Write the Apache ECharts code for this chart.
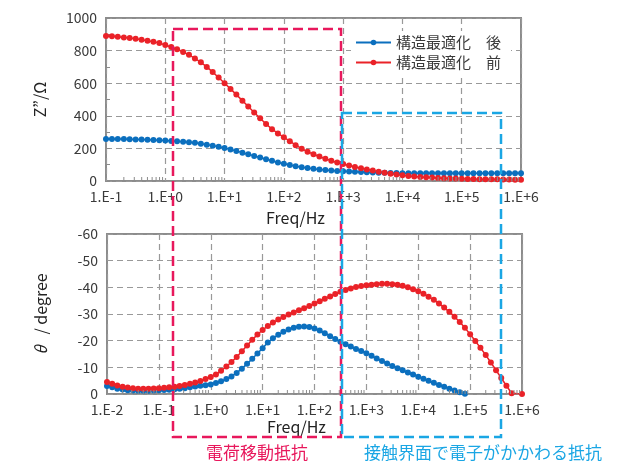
<!DOCTYPE html>
<html><head><meta charset="utf-8">
<script src="https://cdn.jsdelivr.net/npm/echarts@6/dist/echarts.min.js"></script>
<style>html,body{margin:0;padding:0;background:#fff}#c{width:631px;height:468px}</style>
</head><body><div id="c"></div><script>
// Frequencies (Hz), 10 points per decade
const topFreq = [
 0.1,0.126,0.158,0.2,0.251,0.316,0.398,0.501,0.631,0.794,
 1,1.26,1.58,2,2.51,3.16,3.98,5.01,6.31,7.94,
 10,12.6,15.8,20,25.1,31.6,39.8,50.1,63.1,79.4,
 100,126,158,200,251,316,398,501,631,794,
 1000,1260,1580,2000,2510,3160,3980,5010,6310,7940,
 10000,12600,15800,20000,25100,31600,39800,50100,63100,79400,
 100000,126000,158000,200000,251000,316000,398000,501000,631000,794000,
 1000000];
const bottomFreq = [
 0.01,0.0126,0.0158,0.02,0.0251,0.0316,0.0398,0.0501,0.0631,0.0794,
 0.1,0.126,0.158,0.2,0.251,0.316,0.398,0.501,0.631,0.794,
 1,1.26,1.58,2,2.51,3.16,3.98,5.01,6.31,7.94,
 10,12.6,15.8,20,25.1,31.6,39.8,50.1,63.1,79.4,
 100,126,158,200,251,316,398,501,631,794,
 1000,1260,1580,2000,2510,3160,3980,5010,6310,7940,
 10000,12600,15800,20000,25100,31600,39800,50100,63100,79400,
 100000,126000,158000,200000,251000,316000,398000,501000,631000,794000,
 1000000];
// Z'' (Ω)
const zAfter = [
 258,258,257,257,256,255,254,253,252,250,
 248,246,244,241,238,234,229,223,217,210,
 203,194,184,174,164,154,144,134,124,114,
 106,98,91,85,80,75,71,67,64,62,
 60,58,56,55,53,52,51,50,49,49,
 48,48,47,47,47,47,47,47,47,47,
 47,47,47,47,47,47,47,47,47,47,
 47];
const zBefore = [
 890,888,885,881,877,872,867,861,855,846,
 834,822,808,792,774,752,728,700,668,635,
 600,565,530,493,457,420,385,350,318,292,
 268,244,220,198,180,164,150,137,125,114,
 104,95,86,78,71,64,57,51,45,40,
 35,31,28,25,23,21,19,17,16,15,
 14,13,12,11,11,10,10,9,9,8,
 8];
// phase θ (degree)
const phaseAfter = [
 -3.0,-2.5,-2.0,-1.7,-1.4,-1.3,-1.2,-1.2,-1.2,-1.3,
 -1.4,-1.5,-1.6,-1.8,-2.0,-2.2,-2.5,-2.8,-3.1,-3.3,
 -3.6,-4.1,-4.8,-5.6,-6.6,-7.9,-9.5,-11.3,-13.2,-15.2,
 -17.2,-19.3,-20.9,-22.2,-23.3,-24.2,-24.8,-25.2,-25.3,-25.1,
 -24.6,-23.8,-22.8,-21.7,-20.6,-19.6,-18.7,-17.8,-16.9,-16.1,
 -15.3,-14.3,-13.3,-12.4,-11.4,-10.5,-9.7,-8.9,-8.1,-7.3,
 -6.5,-5.7,-5.0,-4.2,-3.4,-2.7,-2.0,-1.3,-0.7,-0.1];
const phaseBefore = [
 -4.5,-3.8,-3.2,-2.7,-2.4,-2.2,-2.0,-2.0,-2.0,-2.1,
 -2.2,-2.3,-2.5,-2.7,-3.0,-3.4,-3.8,-4.3,-4.9,-5.6,
 -6.4,-7.3,-8.7,-10.3,-12.0,-13.9,-16.0,-18.2,-20.3,-22.3,
 -24.0,-25.5,-26.8,-27.9,-28.9,-29.8,-30.6,-31.4,-32.2,-33.0,
 -33.9,-34.8,-35.7,-36.6,-37.5,-38.3,-39.0,-39.6,-40.1,-40.5,
 -40.8,-41.0,-41.2,-41.3,-41.3,-41.2,-41.0,-40.6,-40.0,-39.3,
 -38.5,-37.6,-36.5,-35.3,-33.9,-32.4,-30.8,-29.0,-27.0,-24.8,
 -22.4,-19.9,-17.3,-14.6,-11.8,-8.9,-6.0,-3.1,-0.3,null,
 0];
const seriesNames = ['構造最適化　後', '構造最適化　前'];
const annotationLabels = ['電荷移動抵抗', '接触界面で電子がかかわる抵抗'];

const FONT = '"Noto Sans CJK JP","Noto Sans",sans-serif';
const BLUE = '#0B6FBE', RED = '#EA2228', GRIDC = '#999999', FRAME = '#8c8c8c', TXT = '#3a3a3a';
const PINK = '#E8185C', SKY = '#1AA6E4';

function expLabel(v) {
  const e = Math.round(Math.log10(v));
  return '1.E' + (e >= 0 ? '+' : '-') + Math.abs(e);
}
const pairs = (f, v) => v.map((y, i) => [f[i], y == null ? '-' : y]);

const chart = echarts.init(document.getElementById('c'), null, {renderer: 'canvas'});

const splitLine = {show: true, lineStyle: {type: [6, 4], color: GRIDC, width: 1.2}};
const axisLabel = {color: TXT, fontSize: 14, fontFamily: FONT};
const nameStyle = {color: '#222', fontSize: 16, fontFamily: FONT};

function xAxis(gi, min, gap) {
  return {
    type: 'log', logBase: 10, gridIndex: gi, min: min, max: 1e6,
    name: 'Freq/Hz', nameLocation: 'middle', nameGap: gap,
    nameTextStyle: Object.assign({padding: [0, 36, 0, 0]}, nameStyle),
    axisLine: {show: false}, axisTick: {show: false},
    axisLabel: Object.assign({formatter: expLabel, margin: 9}, axisLabel),
    splitLine: splitLine
  };
}
function line(name, color, xi, data) {
  return {
    type: 'line', name: name, xAxisIndex: xi, yAxisIndex: xi, data: data,
    symbol: 'circle', symbolSize: 6, showSymbol: true, connectNulls: true,
    itemStyle: {color: color}, lineStyle: {color: color, width: 1.5},
    animation: false
  };
}

chart.setOption({
  animation: false,
  textStyle: {fontFamily: FONT},
  grid: [
    {left: 106, top: 18, width: 415, height: 163, show: true, borderColor: FRAME, borderWidth: 2},
    {left: 107, top: 234, width: 415, height: 160, show: true, borderColor: FRAME, borderWidth: 2}
  ],
  xAxis: [xAxis(0, 0.1, 29), xAxis(1, 0.01, 25)],
  yAxis: [
    {type: 'value', gridIndex: 0, min: 0, max: 1000, interval: 200,
     name: 'Z”/Ω', nameLocation: 'middle', nameGap: 58, nameRotate: 90, nameTextStyle: nameStyle,
     axisLine: {show: false},
     axisTick: {show: true, inside: true, length: 4, lineStyle: {color: FRAME}},
     minorTick: {show: true, splitNumber: 2, length: 4, lineStyle: {color: FRAME}},
     axisLabel: Object.assign({margin: 9, formatter: v => String(v)}, axisLabel), splitLine: splitLine},
    {type: 'value', gridIndex: 1, min: -60, max: 0, interval: 10, inverse: true,
     name: '{i|θ}   / degree', nameLocation: 'middle', nameGap: 58, nameRotate: 90,
     nameTextStyle: Object.assign({rich: {i: {fontStyle: 'italic', fontSize: 16, color: '#222', fontFamily: FONT}}}, nameStyle),
     axisLine: {show: false}, axisTick: {show: false},
     axisLabel: Object.assign({margin: 9, formatter: v => String(v)}, axisLabel), splitLine: splitLine}
  ],
  legend: {
    data: seriesNames, orient: 'vertical', left: 351, top: 31,
    itemWidth: 35, itemHeight: 7, itemGap: 5,
    backgroundColor: '#fff', padding: [4, 10, 4, 4],
    textStyle: {color: TXT, fontSize: 15, fontFamily: FONT}
  },
  series: [
    line(seriesNames[0], BLUE, 0, pairs(topFreq, zAfter)),
    line(seriesNames[1], RED, 0, pairs(topFreq, zBefore)),
    line(seriesNames[0], BLUE, 1, pairs(bottomFreq, phaseAfter)),
    line(seriesNames[1], RED, 1, pairs(bottomFreq, phaseBefore))
  ]
});

// minor log ticks (2..9 per decade) positioned through the axes' own scale
const g = [];
[[0, 0.1], [1, 0.01]].forEach(([gi, lo]) => {
  const y0 = chart.convertToPixel({yAxisIndex: gi}, 0);
  for (let d = lo; d < 1e6 * 0.99; d *= 10) {
    for (let m = 2; m <= 9; m++) {
      const x = chart.convertToPixel({xAxisIndex: gi}, m * d);
      g.push({type: 'line', z: 5, silent: true,
        shape: {x1: x, y1: y0, x2: x, y2: y0 - 4},
        style: {stroke: FRAME, lineWidth: 1}});
    }
  }
});
// annotation boxes
g.push({type: 'rect', z: 100, shape: {x: 173, y: 29, width: 168, height: 408},
  style: {fill: 'none', stroke: PINK, lineWidth: 2.5, lineDash: [10, 5]}});
g.push({type: 'rect', z: 101, shape: {x: 342, y: 113, width: 159, height: 324},
  style: {fill: 'none', stroke: SKY, lineWidth: 2.5, lineDash: [10, 5]}});
g.push({type: 'text', z: 100, x: 257, y: 453,
  style: {text: annotationLabels[0], fill: PINK, fontSize: 17, fontFamily: FONT, align: 'center', verticalAlign: 'middle'}});
g.push({type: 'text', z: 100, x: 483, y: 453,
  style: {text: annotationLabels[1], fill: SKY, fontSize: 17, fontFamily: FONT, align: 'center', verticalAlign: 'middle'}});
chart.setOption({graphic: {elements: g}});
</script></body></html>
